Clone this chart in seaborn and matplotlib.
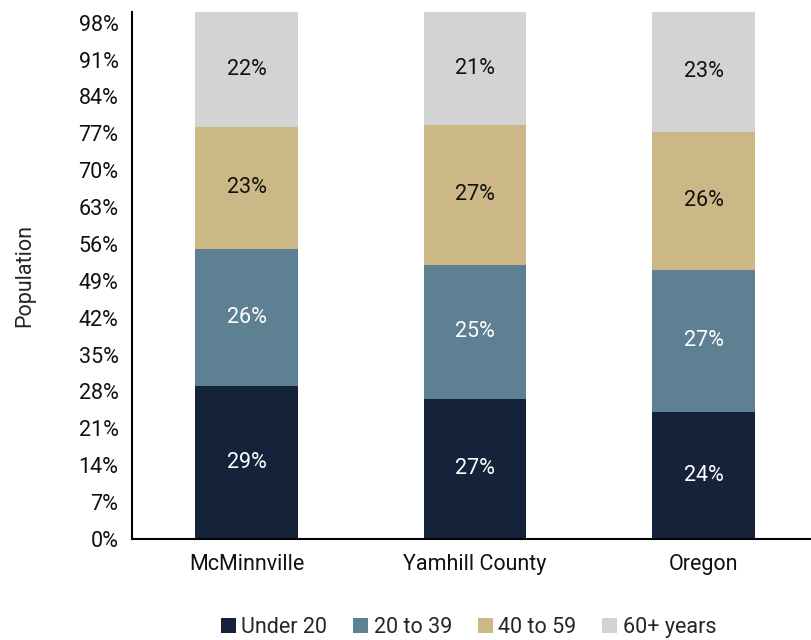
import numpy as np
import pandas as pd
import matplotlib
matplotlib.use("Agg")
import matplotlib.pyplot as plt
import seaborn as sns
from matplotlib.patches import Patch

# Data
places = ["McMinnville", "Yamhill County", "Oregon"]
age_groups = ["Under 20", "20 to 39", "40 to 59", "60+ years"]
under_20 = [29.0, 26.6, 24.1]
age_20_39 = [26.1, 25.4, 27.0]
age_40_59 = [23.1, 26.6, 26.2]
age_60_plus = [21.8, 21.4, 22.7]
y_ticks = list(range(0, 99, 7))

colors = ["#15233A", "#5D8093", "#CCB886", "#D2D3D3"]
text_colors = ["white", "white", "#111111", "#111111"]
fs = 15.5

sns.set_theme(style="white")
plt.rcParams["font.family"] = ["Roboto", "DejaVu Sans"]

df = pd.DataFrame({"place": places, "Under 20": under_20, "20 to 39": age_20_39,
                   "40 to 59": age_40_59, "60+ years": age_60_plus})

fig = plt.figure(figsize=(8.12, 6.4), dpi=100)
ax = fig.add_axes([0.163, 0.158, 0.837, 0.823])

bottom = np.zeros(len(places))
for grp, col, tcol in zip(age_groups, colors, text_colors):
    sns.barplot(data=df, x="place", y=grp, color=col, bottom=bottom, width=0.45,
                saturation=1, ax=ax, edgecolor="none")
    cont = ax.containers[-1]
    ax.bar_label(cont, labels=[f"{v:.0f}%" for v in df[grp]], label_type="center",
                 color=tcol, fontsize=fs)
    bottom = bottom + df[grp].values

ax.set_ylim(0, 100)
ax.set_xlim(-0.5, 2.475)
ax.set_yticks(y_ticks)
ax.set_yticklabels([f"{t}%" for t in y_ticks], fontsize=fs)
ax.set_xticks([0, 1, 2])
ax.set_xticklabels(places, fontsize=fs)
ax.set_xticks([0.5, 1.5], minor=True)
ax.tick_params(axis="x", which="major", length=0, pad=11)
ax.tick_params(axis="x", which="minor", length=5, width=1.2, color="black", direction="out")
ax.tick_params(axis="y", length=7, width=1.2, color="black", direction="out", pad=3)
ax.tick_params(colors="#111111", which="both", labelcolor="#111111")
ax.set_xlabel("")
ax.set_ylabel("Population", fontsize=fs, labelpad=31)

for s in ["top", "right"]:
    ax.spines[s].set_visible(False)
for s in ["left", "bottom"]:
    ax.spines[s].set_color("black")
    ax.spines[s].set_linewidth(1.5)

handles = [Patch(facecolor=c, edgecolor="none") for c in colors]
fig.legend(handles, age_groups, loc="center", bbox_to_anchor=(0.577, 0.02), ncol=4,
           frameon=False, fontsize=fs, handlelength=0.7, handleheight=0.7,
           handletextpad=0.25, columnspacing=1.2)

fig.savefig("out.png", dpi=100)
